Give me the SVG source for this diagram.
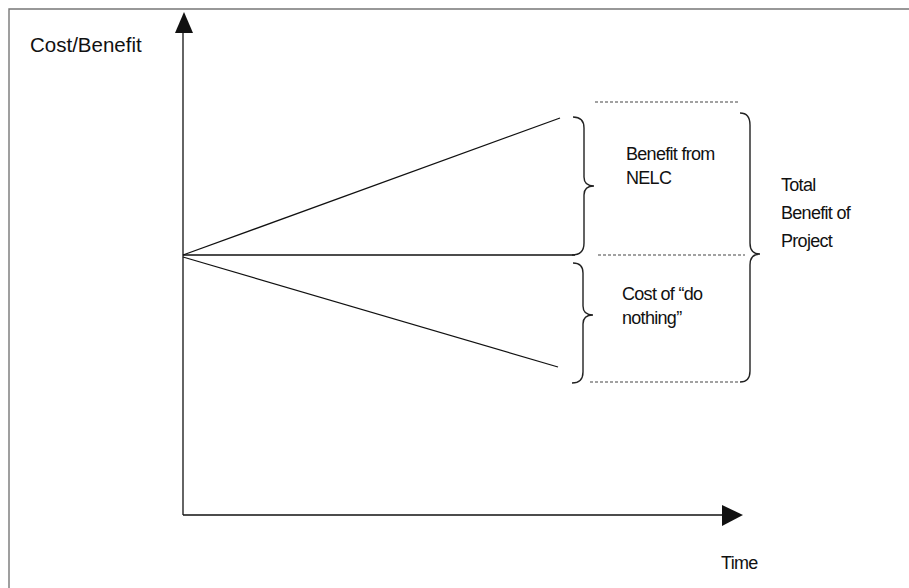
<svg xmlns="http://www.w3.org/2000/svg" width="909" height="588" viewBox="0 0 909 588">
  <style>
    .lbl { font-family: "Liberation Sans", Arial, sans-serif; font-size: 18px; fill: #111; }
    .narrow { letter-spacing: -0.7px; }
    .ln { stroke: #111; stroke-width: 1.3; fill: none; }
    .brace { stroke: #222; stroke-width: 1.4; fill: none; }
    .dot { stroke: #444; stroke-width: 1.2; stroke-dasharray: 3 2; fill: none; }
    .frame { stroke: #777; stroke-width: 1.4; fill: none; }
  </style>
  <rect width="909" height="588" fill="#fff"/>
  <g id="frame">
    <path class="frame" d="M9,588 L9,9 L909,9"/>
  </g>
  <g id="connectors">
    <path class="ln" d="M183,515 L183,32"/>
    <path d="M184,12 L175,33 L193,33 Z" fill="#111"/>
    <path class="ln" d="M183,515 L724,515"/>
    <path d="M743,515 L722,505 L722,526 Z" fill="#111"/>
    <path class="ln" d="M183,255 L560,118"/>
    <path class="ln" d="M183,255 L575,255"/>
    <path class="ln" d="M183,257 L558,367"/>
    <path class="dot" d="M595,102 L740,102"/>
    <path class="dot" d="M598,255 L745,255"/>
    <path class="dot" d="M590,382 L740,382"/>
  </g>
  <g id="brace-benefit">
    <path class="brace" d="M573,117 Q584,117 584,128 L584,177 Q584,186 594,186 Q584,186 584,195 L584,243 Q584,255 572,255"/>
  </g>
  <g id="brace-cost">
    <path class="brace" d="M573,263 Q583,263 583,273 L583,306 Q583,315 593,315 Q583,315 583,324 L583,372 Q583,383 572,383"/>
  </g>
  <g id="brace-total">
    <path class="brace" d="M740,113 Q750,113 750,125 L750,243 Q750,254 760,254 Q750,254 750,265 L750,371 Q750,382 740,382"/>
  </g>
  <g id="label-y">
    <text class="lbl" x="30" y="52" style="font-size:20.5px">Cost/Benefit</text>
  </g>
  <g id="label-x">
    <text class="lbl narrow" x="721" y="569">Time</text>
  </g>
  <g id="label-benefit">
    <text class="lbl narrow" x="626" y="160">Benefit from</text>
    <text class="lbl narrow" x="626" y="184">NELC</text>
  </g>
  <g id="label-cost">
    <text class="lbl narrow" x="622" y="300">Cost of “do</text>
    <text class="lbl narrow" x="622" y="324">nothing”</text>
  </g>
  <g id="label-total">
    <text class="lbl narrow" x="781" y="191">Total</text>
    <text class="lbl narrow" x="781" y="219">Benefit of</text>
    <text class="lbl narrow" x="781" y="247">Project</text>
  </g>
</svg>
